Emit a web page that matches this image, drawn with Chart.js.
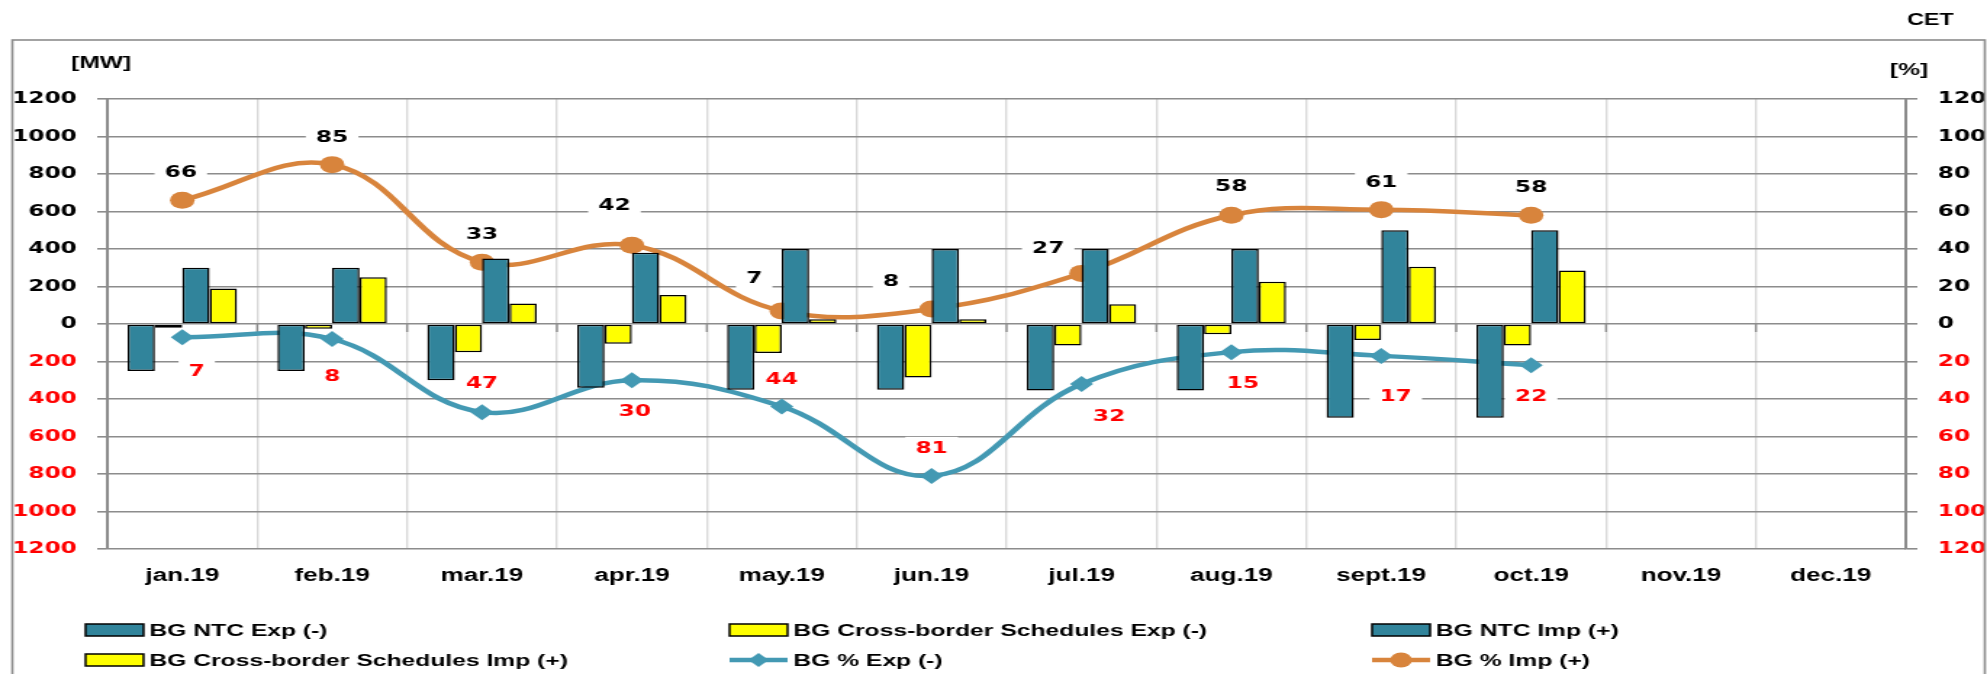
<!DOCTYPE html>
<html>
<head>
<meta charset="utf-8">
<script src="https://cdn.jsdelivr.net/npm/chart.js@4.4.1/dist/chart.umd.min.js"></script>
<style>
  html, body { margin: 0; padding: 0; background: #fff; overflow: hidden; }
</style>
</head>
<body>
<!-- drawn at 1370px and widened to the page width -->
<canvas id="chart" width="1370" height="674" style="width:1987px;height:674px;display:block"></canvas>
<script>
var months = ['jan.19', 'feb.19', 'mar.19', 'apr.19', 'may.19', 'jun.19',
    'jul.19', 'aug.19', 'sept.19', 'oct.19', 'nov.19', 'dec.19'];

// MW, exports below zero
var ntcExp = [-250, -250, -300, -340, -350, -350, -355, -355, -500, -500];
var schedExp = [-20, -25, -150, -105, -155, -285, -115, -55, -85, -115];
var ntcImp = [300, 300, 350, 380, 400, 400, 400, 400, 500, 500];
var schedImp = [190, 250, 110, 155, 25, 25, 105, 225, 305, 285];

// % usage, exports below zero
var pctExp = [-7, -8, -47, -30, -44, -81, -32, -15, -17, -22];
var pctImp = [66, 85, 33, 42, 7, 8, 27, 58, 61, 58];

var mwTicks = [-1200, -1000, -800, -600, -400, -200, 0, 200, 400, 600, 800, 1000, 1200];
var pctTicks = [-120, -100, -80, -60, -40, -20, 0, 20, 40, 60, 80, 100, 120];

// where each value label sits relative to its point
var impLabelShift = [[-1, -28], [0, -28], [0, -28], [-12, -40], [-19, -33], [-28, -28],
    [-23, -26], [0, -29], [0, -28], [0, -28]];
var expLabelShift = [[10, 34], [0, 37], [0, -29], [2, 31], [0, -28], [0, -28],
    [19, 32], [8, 31], [10, 40], [0, 31]];

var legendSlots = [[59, 630], [503, 630], [946, 630], [59, 660], [503, 660], [946, 660]];

var TEAL = '#31849b';
var YELLOW = '#ffff00';
var BLUE = '#4399b3';
var ORANGE = '#d8843c';
var GRID = '#8c8c8c';
var RED = '#ff0000';

function drawValueLabels(chart, index, values, shifts, color) {
    var ctx = chart.ctx;
    var meta = chart.getDatasetMeta(index);
    ctx.save();
    ctx.font = 'bold 16px "DejaVu Sans"';
    ctx.textAlign = 'center';
    ctx.textBaseline = 'middle';
    meta.data.forEach(function (pt, i) {
        var text = String(Math.abs(values[i]));
        var cx = pt.x + shifts[i][0];
        var cy = pt.y + shifts[i][1];
        var w = ctx.measureText(text).width + 14;
        ctx.fillStyle = '#fff';
        ctx.fillRect(cx - w / 2, cy - 11, w, 22);
        ctx.fillStyle = color;
        ctx.fillText(text, cx, cy + 1);
    });
    ctx.restore();
}

function drawLegend(chart) {
    var ctx = chart.ctx;
    ctx.save();
    chart.data.datasets.forEach(function (ds, i) {
        var x = legendSlots[i][0];
        var y = legendSlots[i][1];
        if (ds.type === 'line') {
            ctx.strokeStyle = ds.borderColor;
            ctx.lineWidth = 4.5;
            ctx.beginPath();
            ctx.moveTo(x, y);
            ctx.lineTo(x + 40, y);
            ctx.stroke();
            ctx.fillStyle = ds.borderColor;
            ctx.beginPath();
            if (ds.pointStyle === 'rectRot') {
                ctx.moveTo(x + 20 - 7, y);
                ctx.lineTo(x + 20, y - 7);
                ctx.lineTo(x + 20 + 7, y);
                ctx.lineTo(x + 20, y + 7);
                ctx.closePath();
            } else {
                ctx.arc(x + 20, y, 7.5, 0, Math.PI * 2);
            }
            ctx.fill();
        } else {
            ctx.fillStyle = ds.backgroundColor;
            ctx.fillRect(x, y - 6, 40, 12);
            ctx.strokeStyle = '#000';
            ctx.lineWidth = 1.5;
            ctx.strokeRect(x, y - 6, 40, 12);
        }
        ctx.fillStyle = '#000';
        ctx.font = 'bold 17px "Liberation Sans"';
        ctx.textAlign = 'left';
        ctx.textBaseline = 'middle';
        ctx.fillText(ds.label, x + 44, y + 1);
    });
    ctx.restore();
}

var decorations = {
    id: 'decorations',
    beforeDatasetsDraw: function (chart) {
        // small ticks hanging under the zero line between months
        var ctx = chart.ctx;
        var xs = chart.scales.x;
        var zero = chart.scales.y.getPixelForValue(0);
        ctx.save();
        ctx.strokeStyle = GRID;
        ctx.lineWidth = 1.4;
        for (var i = 0; i <= months.length; i++) {
            var px = xs.left + (xs.right - xs.left) * i / months.length;
            ctx.beginPath();
            ctx.moveTo(px, zero);
            ctx.lineTo(px, zero + 8);
            ctx.stroke();
        }
        ctx.restore();
    },
    afterDatasetsDraw: function (chart) {
        drawValueLabels(chart, 5, pctImp, impLabelShift, '#000');
        drawValueLabels(chart, 4, pctExp, expLabelShift, RED);
    },
    afterDraw: function (chart) {
        var ctx = chart.ctx;
        ctx.save();
        ctx.strokeStyle = GRID;
        ctx.lineWidth = 1.6;
        ctx.strokeRect(8.5, 40, 1360, 700);

        ctx.fillStyle = '#000';
        ctx.textAlign = 'left';
        ctx.textBaseline = 'middle';
        ctx.font = 'bold 16px "Liberation Sans"';
        ctx.fillText('CET', 1315, 21);
        ctx.font = 'bold 17px "Liberation Sans"';
        ctx.fillText('[MW]', 49, 63);
        ctx.fillText('[%]', 1303, 70);
        ctx.restore();

        drawLegend(chart);
    }
};

function signedTickColor(c) {
    return c.tick && c.tick.value < 0 ? RED : '#000';
}

var ctx = document.getElementById('chart').getContext('2d');
var chart = new Chart(ctx, {
    data: {
        labels: months,
        datasets: [
            { type: 'bar', label: 'BG NTC Exp (-)', data: ntcExp, backgroundColor: TEAL },
            { type: 'bar', label: 'BG Cross-border Schedules Exp (-)', data: schedExp, backgroundColor: YELLOW },
            { type: 'bar', label: 'BG NTC Imp (+)', data: ntcImp, backgroundColor: TEAL },
            { type: 'bar', label: 'BG Cross-border Schedules Imp (+)', data: schedImp, backgroundColor: YELLOW },
            {
                type: 'line', label: 'BG % Exp (-)', data: pctExp, yAxisID: 'y1',
                borderColor: BLUE, backgroundColor: BLUE, borderWidth: 4.5, tension: 0.4,
                pointStyle: 'rectRot', pointRadius: 8, pointBorderWidth: 0, order: 0
            },
            {
                type: 'line', label: 'BG % Imp (+)', data: pctImp, yAxisID: 'y1',
                borderColor: ORANGE, backgroundColor: ORANGE, borderWidth: 4.5, tension: 0.4,
                pointStyle: 'circle', pointRadius: 8.5, pointBorderWidth: 0, order: 0
            }
        ]
    },
    options: {
        responsive: false,
        devicePixelRatio: 1,
        animation: false,
        layout: { padding: { top: 99, left: 0, right: 0, bottom: 0 } },
        datasets: {
            bar: {
                order: 1,
                borderColor: '#000',
                borderWidth: 1.5,
                borderSkipped: false,
                categoryPercentage: 0.73,
                barPercentage: 1
            }
        },
        plugins: {
            legend: { display: false },
            tooltip: { enabled: false }
        },
        scales: {
            x: {
                offset: true,
                grid: {
                    offset: true,
                    drawTicks: false,
                    lineWidth: 1.4,
                    color: function (c) {
                        return (c.index === 0 || c.index === months.length) ? 'rgba(0,0,0,0)' : '#d9d9d9';
                    }
                },
                border: { display: false },
                ticks: {
                    color: '#000',
                    padding: 16,
                    maxRotation: 0,
                    autoSkip: false,
                    font: { family: '"Liberation Sans"', size: 18, weight: 'bold' }
                },
                afterFit: function (s) { s.height = 125; }
            },
            y: {
                position: 'left',
                min: -1200,
                max: 1200,
                afterBuildTicks: function (axis) {
                    axis.ticks = mwTicks.map(function (v) { return { value: v }; });
                },
                grid: { color: GRID, lineWidth: 1.6, tickLength: 7 },
                border: { color: GRID, width: 2 },
                ticks: {
                    padding: 14,
                    color: signedTickColor,
                    font: { family: '"DejaVu Sans"', size: 16, weight: 'bold' },
                    callback: function (v) { return Math.abs(v); }
                },
                afterFit: function (s) { s.width = 74; }
            },
            y1: {
                position: 'right',
                min: -120,
                max: 120,
                afterBuildTicks: function (axis) {
                    axis.ticks = pctTicks.map(function (v) { return { value: v }; });
                },
                grid: { drawOnChartArea: false, color: GRID, lineWidth: 1.6, tickLength: 8 },
                border: { color: GRID, width: 2 },
                ticks: {
                    padding: 14,
                    color: signedTickColor,
                    font: { family: '"DejaVu Sans"', size: 16, weight: 'bold' },
                    callback: function (v) { return Math.abs(v); }
                },
                afterFit: function (s) { s.width = 56; }
            }
        }
    },
    plugins: [decorations]
});
</script>
</body>
</html>
